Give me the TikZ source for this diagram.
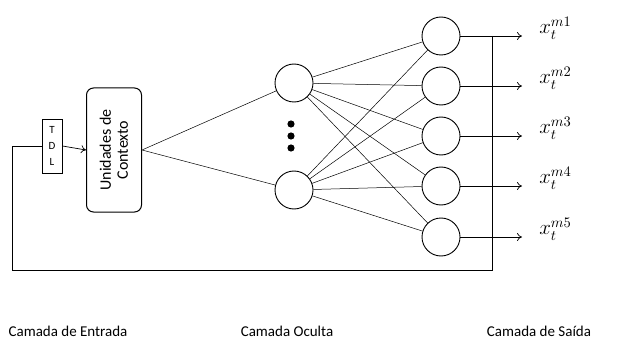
\documentclass[tikz,border=0pt]{standalone}
\usepackage{fontspec}
\setmainfont{Carlito}
\usetikzlibrary{arrows.meta}
\begin{document}
\begin{tikzpicture}[x=1pt,y=-1pt,
  neuron/.style={draw,circle,line width=0.9pt,minimum size=38pt,inner sep=0pt},
  link/.style={line width=0.5pt},
  wire/.style={line width=0.7pt},
  tip/.style={-{To[length=5pt,width=8pt]}},
  camada/.style={font=\fontsize{15}{17}\selectfont}]
\useasboundingbox (0,0) rectangle (624,342);
% entrada
\node[draw,line width=0.9pt,minimum width=20pt,minimum height=54pt,inner sep=0pt,
  align=center,font=\fontsize{11}{16}\selectfont] (tdl) at (52,146) {T\\D\\L};
\node[draw,line width=1pt,rounded corners=7pt,rotate=90,minimum width=124pt,
  minimum height=55pt,align=center,inner sep=1pt,font=\fontsize{16}{17}\selectfont] (ctx) at (114,150)
  {Unidades de\\Contexto};
\draw[wire,tip] (tdl.east) -- (ctx.north);
% camada oculta
\node[neuron] (h1) at (294,83) {};
\node[neuron] (h2) at (294,190) {};
\foreach \y in {124,136,148} \fill (291,\y) circle (3.6pt);
\draw[link] (ctx.south) -- (h1) (ctx.south) -- (h2);
% camada de saida
\foreach \i/\y in {1/36,2/86,3/136,4/186,5/237} {
  \node[neuron] (o\i) at (441,\y) {};
  \draw[link] (h1) -- (o\i) (h2) -- (o\i);
  \coordinate (e\i) at (522,\y);
  \draw[wire,tip] (o\i.east) -- (e\i);
  \node[anchor=west,inner sep=0pt,scale=1.45,font=\Large] (x\i) at (539,\y-8) {$x_t^{m\i}$};
}
% realimentacao
\coordinate (b1) at (492,36);
\coordinate (b2) at (492,270);
\coordinate (b3) at (12,270);
\draw[wire] (b1) -- (b2) -- (b3) |- (tdl.west);
% rotulos
\node[camada] (le) at (68,331) {Camada de Entrada};
\node[camada] (lo) at (287,331) {Camada Oculta};
\node[camada] (ls) at (539,331) {Camada de Saída};
\end{tikzpicture}
\end{document}
